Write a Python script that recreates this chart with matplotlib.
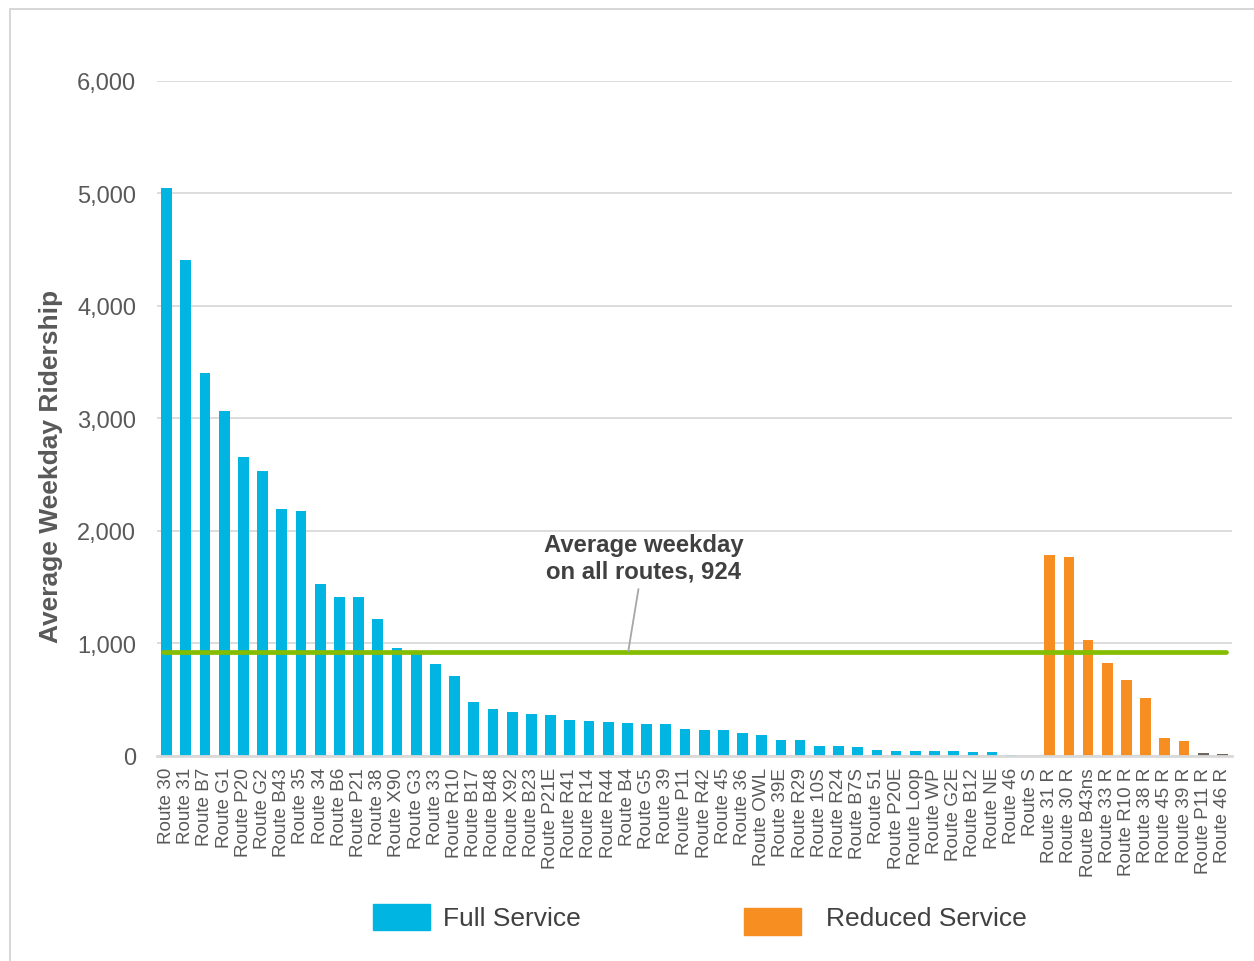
import matplotlib.pyplot as plt
from matplotlib.patches import Rectangle

plt.rcParams["font.family"] = ["Liberation Sans", "DejaVu Sans"]

# Average weekday ridership per route
full_routes = [
    "Route 30", "Route 31", "Route B7", "Route G1", "Route P20", "Route G2",
    "Route B43", "Route 35", "Route 34", "Route B6", "Route P21", "Route 38",
    "Route X90", "Route G3", "Route 33", "Route R10", "Route B17", "Route B48",
    "Route X92", "Route B23", "Route P21E", "Route R41", "Route R14", "Route R44",
    "Route B4", "Route G5", "Route 39", "Route P11", "Route R42", "Route 45",
    "Route 36", "Route OWL", "Route 39E", "Route R29", "Route 10S", "Route R24",
    "Route B7S", "Route 51", "Route P20E", "Route Loop", "Route WP", "Route G2E",
    "Route B12", "Route NE", "Route 46", "Route S",
]
full_values = [
    5050, 4405, 3405, 3070, 2660, 2530,
    2195, 2180, 1525, 1415, 1415, 1215,
    960, 905, 815, 707, 484, 418,
    391, 373, 364, 322, 313, 304,
    290, 287, 284, 239, 233, 227,
    206, 188, 146, 140, 90, 87,
    81, 51, 42, 42, 42, 42,
    36, 33, 6, 0,
]

reduced_routes = [
    "Route 31 R", "Route 30 R", "Route B43ns", "Route 33 R", "Route R10 R",
    "Route 38 R", "Route 45 R", "Route 39 R", "Route P11 R", "Route 46 R",
]
reduced_values = [1790, 1772, 1034, 830, 679, 519, 163, 136, 30, 21]

average_all = 924

BLUE = "#00B5E2"
ORANGE = "#F68E21"
DARK = "#6F665E"
GREEN = "#84BD00"
GRID = "#D9D9D9"
TEXT = "#595959"

W, H = 1254, 962
fig = plt.figure(figsize=(W / 100, H / 100), dpi=100)
ax = fig.add_axes([0.1252, 0.2131, 0.8573, 0.7017])

labels = full_routes + reduced_routes
n_full = len(full_routes)
x_full = list(range(n_full))
x_red = list(range(n_full, n_full + len(reduced_routes)))

ax.bar(x_full, full_values, width=0.56, color=BLUE, zorder=2)
red_colors = [ORANGE] * 8 + [DARK] * 2
ax.bar(x_red, reduced_values, width=0.56, color=red_colors, zorder=2)

# system-wide average
ax.plot([-0.2, len(labels) - 0.8], [average_all, average_all], color=GREEN,
        lw=3.4, solid_capstyle="round", zorder=3)
ax.annotate(f"Average weekday\non all routes, {average_all:,}",
            xy=(24.05, average_all + 8), xytext=(24.85, 1765),
            ha="center", va="center", fontsize=17.2, fontweight="bold",
            color="#404040", linespacing=1.2,
            arrowprops=dict(arrowstyle="-", color="#A6A6A6", lw=1.3,
                            shrinkA=3, shrinkB=0),
            zorder=4)

ax.set_xlim(-0.5, len(labels) - 0.5)
ax.set_ylim(0, 6000)
ax.set_yticks(range(0, 6001, 1000))
ax.yaxis.set_major_formatter(plt.FuncFormatter(lambda v, _: f"{v:,.0f}"))
ax.set_xticks(range(len(labels)))
ax.set_xticklabels(labels, rotation=90, fontsize=13.6, color=TEXT)
ax.tick_params(axis="y", length=0, pad=15, labelsize=17, labelcolor=TEXT)
ax.tick_params(axis="x", length=0, pad=8)

ax.grid(axis="y", color=GRID, lw=1.3, zorder=0)
for side in ["top", "right", "left"]:
    ax.spines[side].set_visible(False)
ax.spines["bottom"].set_color(GRID)
ax.spines["bottom"].set_linewidth(2)

ax.set_ylabel("Average Weekday Ridership", fontsize=19, fontweight="bold",
              color=TEXT)
ax.yaxis.set_label_coords(-0.087, 0.43)

# legend swatches and captions, placed in pixel units
def px_rect(x0, y0, x1, y1, color):
    fig.patches.append(Rectangle((x0 / W, 1 - y1 / H), (x1 - x0) / W, (y1 - y0) / H,
                                 transform=fig.transFigure, color=color))

px_rect(373, 905, 430, 931, BLUE)
fig.text(443 / W, 1 - 919 / H, "Full Service", fontsize=19, color="#404040",
         ha="left", va="center")
px_rect(744, 909, 801, 936, ORANGE)
fig.text(826 / W, 1 - 919 / H, "Reduced Service", fontsize=19, color="#404040",
         ha="left", va="center")

# thin outer frame
fig.patches.append(Rectangle((0.008, -0.01), 1.0, 1.0, transform=fig.transFigure,
                             fill=False, edgecolor="#D0D0D0", lw=1.2))

fig.savefig("out.png", dpi=100)
